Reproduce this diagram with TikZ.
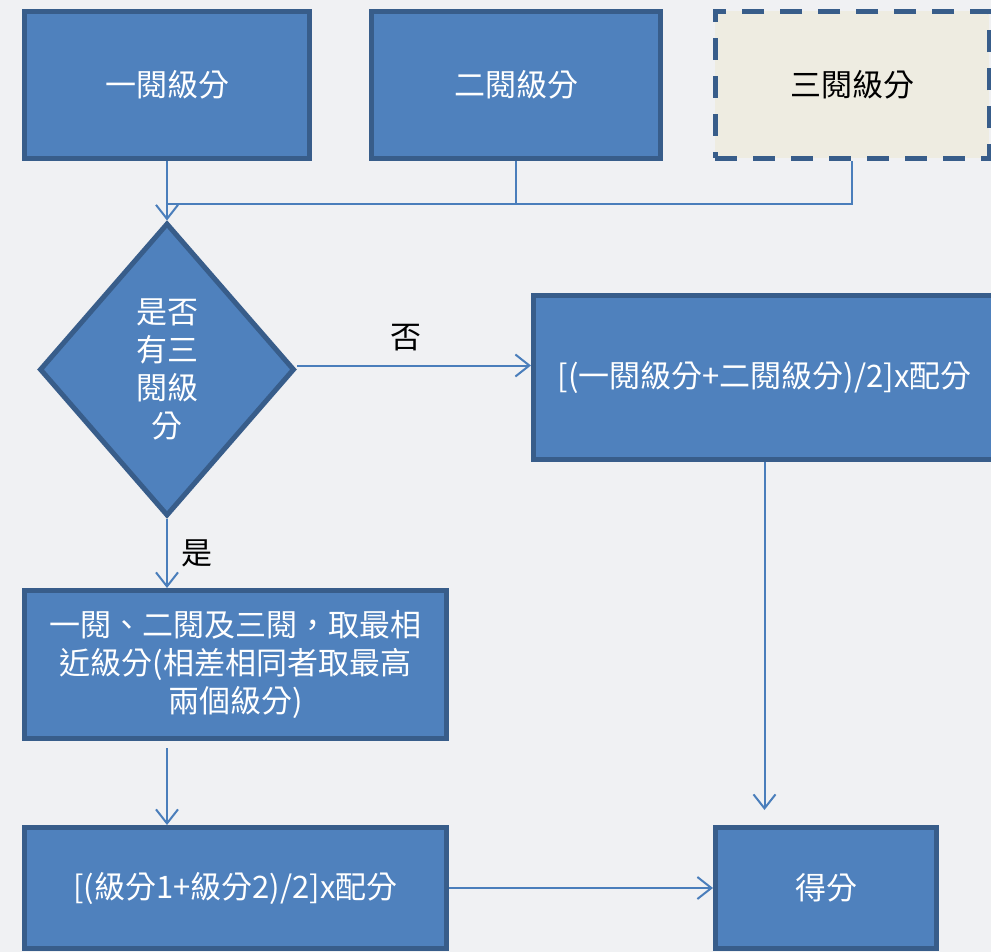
\documentclass[tikz,border=0pt]{standalone}
\usepackage{fontspec}
\newfontfamily\tcfont{Noto Sans CJK TC}
\usepackage{tikz}
\usetikzlibrary{shapes.geometric, arrows.meta, positioning, calc}
\definecolor{boxfill}{HTML}{4F81BD}
\definecolor{boxline}{HTML}{385D8A}
\definecolor{linkblue}{HTML}{4A7EBB}
\definecolor{paper}{HTML}{F0F1F3}
\definecolor{draftfill}{HTML}{EEECE1}

\begin{document}
\begin{tikzpicture}[x=1pt, y=-1pt, gradebox/.style={rectangle, draw=boxline,
      fill=boxfill, line width=5pt, text=white, align=center, inner sep=0pt,
      font=\tcfont\fontsize{31pt}{38pt}\selectfont}, thirdbox/.style={gradebox,
      fill=draftfill, text=black, dash pattern=on 22pt off 16pt},
      decision/.style={gradebox, diamond, minimum width=255pt, minimum
      height=293pt}, link/.style={line width=2pt, linkblue},
      linkarrow/.style={link, -{Straight Barb[length=14pt, width=22pt]}},
      linklabel/.style={font=\tcfont\fontsize{31pt}{38pt}\selectfont,
      text=black} ]
    % Page
    \useasboundingbox (0,0) rectangle (991,952); \fill[paper] (0,0) rectangle
    (991,952);

    % Marker boxes
    \node[gradebox, minimum width=285pt, minimum height=147pt] (first) at
    (167,85) {一閱級分}; \node[gradebox, minimum width=289pt, minimum
    height=147pt] (second) at (516,85) {二閱級分}; \node[thirdbox, minimum
    width=274pt, minimum height=147pt] (third) at (852,85) {三閱級分};

    % Decision
    \node[decision] (check) at (167,369.5) {是否\\有三\\閱級\\分};

    % Results
    \node[gradebox, minimum width=462pt, minimum height=164pt] (average) at
    (764.5,377.5) {[(一閱級分+二閱級分)/2]x配分}; \node[gradebox, minimum
    width=422pt, minimum height=148pt] (closest) at (235.5,664.5)
    {一閱、二閱及三閱，取最相\\近級分(相差相同者取最高\\兩個級分)};
    \node[gradebox, minimum width=422pt, minimum height=121pt] (formula) at
    (235.5,888) {[(級分1+級分2)/2]x配分}; \node[gradebox, minimum width=221pt,
    minimum height=121pt] (score) at (826,888) {得分};

    % Joining the three markers
    \coordinate (join) at ($(first.south)!.72!(check.north)$);
    \draw[link] (second.south) |- (join); \draw[link] (third.south) |- (join);
    \draw[linkarrow] (first.south) -- (check.north);

    % Branches
    \draw[linkarrow] ($(check.east)+(0,-4)$) -- ($(check.east -|
    average.west)+(0,-4)$) node[linklabel, midway, above=10pt, xshift=-8pt]
    (nolabel) {否}; \draw[linkarrow] (check.south) -- (check.south |-
    closest.north) node[linklabel, midway, right=10pt] (yeslabel) {是};

    % To the score
    \draw[linkarrow, shorten <=7pt] (check.south |- closest.south) --
    (check.south |- formula.north); \draw[linkarrow] (formula.east) --
    (score.west); \draw[linkarrow, shorten >=15pt] (average.south) --
    (average.south |- score.north);

  \end{tikzpicture}
\end{document}
